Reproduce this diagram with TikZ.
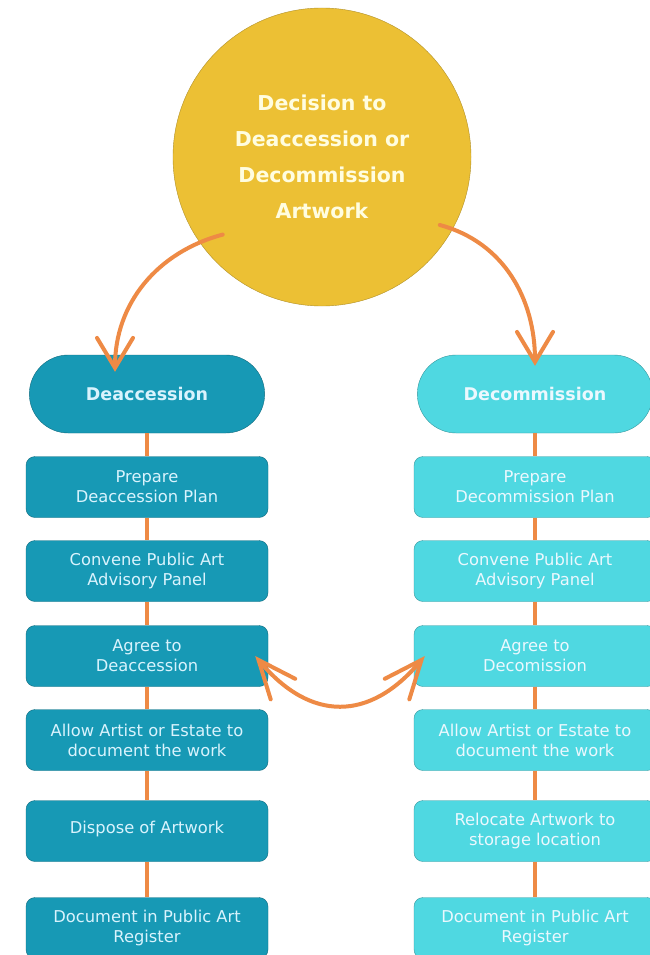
\documentclass[tikz,border=0pt]{standalone}
\usepackage{fontspec}
\setmainfont{DejaVu Sans}
\usetikzlibrary{arrows.meta}
\usetikzlibrary{shapes.misc}
\definecolor{gold}{HTML}{ECC034}
\definecolor{deepteal}{HTML}{1799B5}
\definecolor{paleteal}{HTML}{4FD8E1}
\definecolor{flow}{HTML}{EE8A45}

\begin{document}
\begin{tikzpicture}[x=1pt,y=1pt,
decide/.style={circle,draw=gold!75!black,fill=gold,minimum size=298pt,
  text=white!88!yellow,font=\bfseries\fontsize{20.5}{36}\selectfont,align=center},
pill/.style={rounded rectangle,minimum width=242pt,minimum height=78pt,
  font=\bfseries\fontsize{17.5}{20}\selectfont},
stepbox/.style={rectangle,rounded corners=9pt,minimum width=242pt,minimum height=61pt,
  align=center,font=\fontsize{16.3}{20}\selectfont},
deac/.style={draw=deepteal!70!black,fill=deepteal,text=white!85!cyan},
decom/.style={draw=paleteal!70!black,fill=paleteal,text=white!92!cyan},
link/.style={draw=flow,line width=4pt},
sweep/.style={draw=flow,line width=4pt,line cap=round,
  -{Straight Barb[length=30pt,width=36pt,line cap=round]}},
both/.style={draw=flow,line width=4pt,line cap=round,
  {Straight Barb[length=38pt,width=32pt,line cap=round]}-{Straight Barb[length=38pt,width=32pt,line cap=round]}}]
\useasboundingbox[fill=white] (0,0) rectangle (650,-955);

\node[decide] (dec) at (322,-157) {\raisebox{5pt}{\begin{tabular}{@{}c@{}}Decision to\\Deaccession or\\Decommission\\Artwork\end{tabular}}};

% deaccession column
\node[pill,deac] (dA) at (147,-394) {Deaccession};
\node[stepbox,deac] (dA1) at (147,-487) {Prepare\\Deaccession Plan};
\node[stepbox,deac] (dA2) at (147,-571) {Convene Public Art\\Advisory Panel};
\node[stepbox,deac] (dA3) at (147,-656) {Agree to\\Deaccession};
\node[stepbox,deac] (dA4) at (147,-740) {Allow Artist or Estate to\\document the work};
\node[stepbox,deac] (dA5) at (147,-831) {\raisebox{8pt}{Dispose of Artwork}};
\node[stepbox,deac] (dA6) at (147,-928) {Document in Public Art\\Register};

% decommission column
\node[pill,decom] (dC) at (535,-394) {Decommission};
\node[stepbox,decom] (dC1) at (535,-487) {Prepare\\Decommission Plan};
\node[stepbox,decom] (dC2) at (535,-571) {Convene Public Art\\Advisory Panel};
\node[stepbox,decom] (dC3) at (535,-656) {Agree to\\Decomission};
\node[stepbox,decom] (dC4) at (535,-740) {Allow Artist or Estate to\\document the work};
\node[stepbox,decom] (dC5) at (535,-831) {Relocate Artwork to\\storage location};
\node[stepbox,decom] (dC6) at (535,-928) {Document in Public Art\\Register};

\foreach \col in {dA,dC}{
  \draw[link] (\col.south) -- (\col1.north);
  \foreach \i [evaluate=\i as \j using int(\i+1)] in {1,...,5}
    \draw[link] (\col\i.south) -- (\col\j.north);
}

\draw[sweep] ([shift={(218:126pt)}]dec.center) to[out=195,in=90] ([xshift=-32pt,yshift=-17pt]dA.north);
\draw[sweep] ([shift={(-30:136pt)}]dec.center) to[out=-15,in=90] ([yshift=-11pt]dC.north);
\draw[both] ([xshift=-13pt]dA3.east) to[out=-50,in=-130,looseness=1.3] ([xshift=11pt]dC3.west);
\end{tikzpicture}
\end{document}
